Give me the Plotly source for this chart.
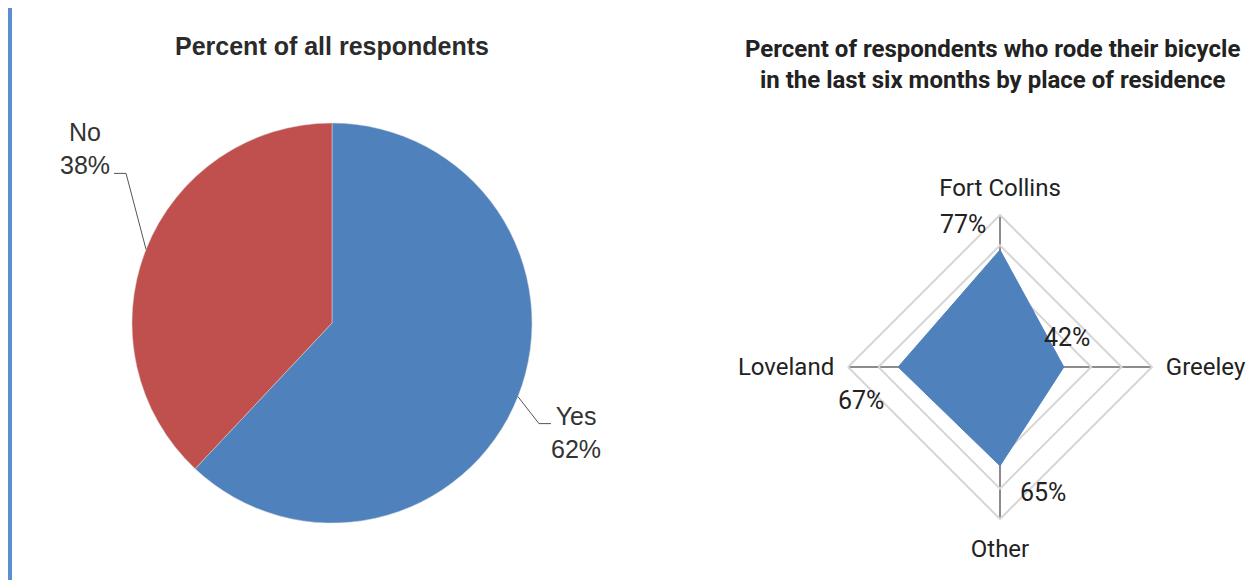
import math
import plotly.graph_objects as go

# Pie data
pie_labels = ['Yes', 'No']
pie_values = [62, 38]
pie_colors = ['#4F81BD', '#C0504D']

# Radar data
places = ['Fort Collins', 'Greeley', 'Other', 'Loveland']
rode_pct = [77, 42, 65, 67]

# page body has an 8px margin, so the figure is shifted by that much
OFF = 8
W, H = 1256 - OFF, 580 - OFF
SANS = 'Roboto, Liberation Sans, sans-serif'
ARIAL = 'Liberation Sans, Arial, sans-serif'


def px(x, y):
    # page pixel -> paper coords
    return (x - OFF) / W, 1 - (y - OFF) / H


def dom(x0, x1, y0, y1):
    a, b = px(x0, y1)
    c, d = px(x1, y0)
    return dict(x=[a, c], y=[b, d])


fig = go.Figure()

# pie geometry (page pixels)
pcx, pcy, pr = 332, 323, 200
fig.add_trace(go.Pie(
    labels=pie_labels, values=pie_values, sort=False, direction='clockwise',
    rotation=0, textinfo='none', hoverinfo='label+percent',
    marker=dict(colors=pie_colors, line=dict(color='#d8d8d8', width=0.5)),
    domain=dom(pcx - pr, pcx + pr, pcy - pr, pcy + pr),
    showlegend=False,
))

# radar
fig.add_trace(go.Scatterpolar(
    r=rode_pct + rode_pct[:1], theta=places + places[:1],
    mode='lines', fill='toself', fillcolor='#4F81BD',
    line=dict(color='#4F81BD', width=1),
    showlegend=False,
))

rcx, rcy, rr = 1000, 367, 152
fig.update_layout(
    width=W, height=H,
    margin=dict(l=0, r=0, t=0, b=0),
    paper_bgcolor='white', plot_bgcolor='white',
    polar=dict(
        domain=dom(rcx - rr, rcx + rr, rcy - rr, rcy + rr),
        bgcolor='white',
        gridshape='linear',
        radialaxis=dict(range=[0, 100], dtick=20, showticklabels=False, ticks='',
                        showline=False, gridcolor='#d6d6d6', gridwidth=2),
        angularaxis=dict(direction='clockwise', rotation=90,
                         showline=True, linecolor='#d6d6d6', linewidth=2,
                         gridcolor='#8c8c8c', gridwidth=2,
                         ticks='outside', ticklen=8, tickcolor='rgba(0,0,0,0)',
                         tickfont=dict(family=SANS, size=24, color='#222')),
    ),
)

# radar data labels, placed beside each vertex
lbl_off = [(-37, -25), (3, -29), (43, 27), (-37, 33)]
for i, (v, (dx, dy)) in enumerate(zip(rode_pct, lbl_off)):
    ang = i * math.pi / 2
    vx = rcx + v / 100 * rr * math.sin(ang)
    vy = rcy - v / 100 * rr * math.cos(ang)
    ax, ay = px(vx + dx, vy + dy)
    fig.add_annotation(x=ax, y=ay, xref='paper', yref='paper', showarrow=False,
                       xanchor='center', yanchor='middle', text=f'{v}%',
                       font=dict(family=SANS, size=25, color='#222'))

# leader lines and labels for the pie, anchored at each slice mid-angle
total = sum(pie_values)
cum = 0
label_offsets = {'Yes': (1, (21, 27), (576, 432)), 'No': (-1, (-20, -76), (85, 149))}
for lab, val in zip(pie_labels, pie_values):
    mid = (cum + val / 2) / total * 2 * math.pi
    cum += val
    ex, ey = pcx + pr * math.sin(mid), pcy - pr * math.cos(mid)
    side, (dx, dy), (tx, ty) = label_offsets[lab]
    kx, ky = ex + dx, ey + dy
    hx = kx + 12 * side
    x0, y0 = px(ex, ey)
    x1, y1 = px(kx, ky)
    x2, y2 = px(hx, ky)
    fig.add_shape(type='path', xref='paper', yref='paper',
                  path=f'M {x0},{y0} L {x1},{y1} L {x2},{y2}',
                  line=dict(color='#555', width=1))
    ax, ay = px(tx, ty)
    fig.add_annotation(x=ax, y=ay, xref='paper', yref='paper', showarrow=False,
                       xanchor='center', yanchor='middle',
                       text=f'{lab}<br>{val}%', align='center',
                       font=dict(family=ARIAL, size=25, color='#333'))

# titles
tx, ty = px(332, 46)
fig.add_annotation(x=tx, y=ty, xref='paper', yref='paper', showarrow=False,
                   xanchor='center', yanchor='middle',
                   text='<b>Percent of all respondents</b>',
                   font=dict(family=ARIAL, size=25, color='#2b2b2b'))
tx, ty = px(992, 64)
fig.add_annotation(x=tx, y=ty, xref='paper', yref='paper', showarrow=False,
                   xanchor='center', yanchor='middle',
                   text='<b>Percent of respondents who rode their bicycle<br>'
                        'in the last six months by place of residence</b>',
                   font=dict(family=SANS, size=24, color='#222'))

# blue bar on the left edge
x0, y1 = px(8, 8)
x1, _ = px(12, 8)
fig.add_shape(type='rect', xref='paper', yref='paper',
              x0=x0, x1=x1, y0=0, y1=y1,
              fillcolor='#5B8FD0', line=dict(width=0))

fig.write_html('out.html')
